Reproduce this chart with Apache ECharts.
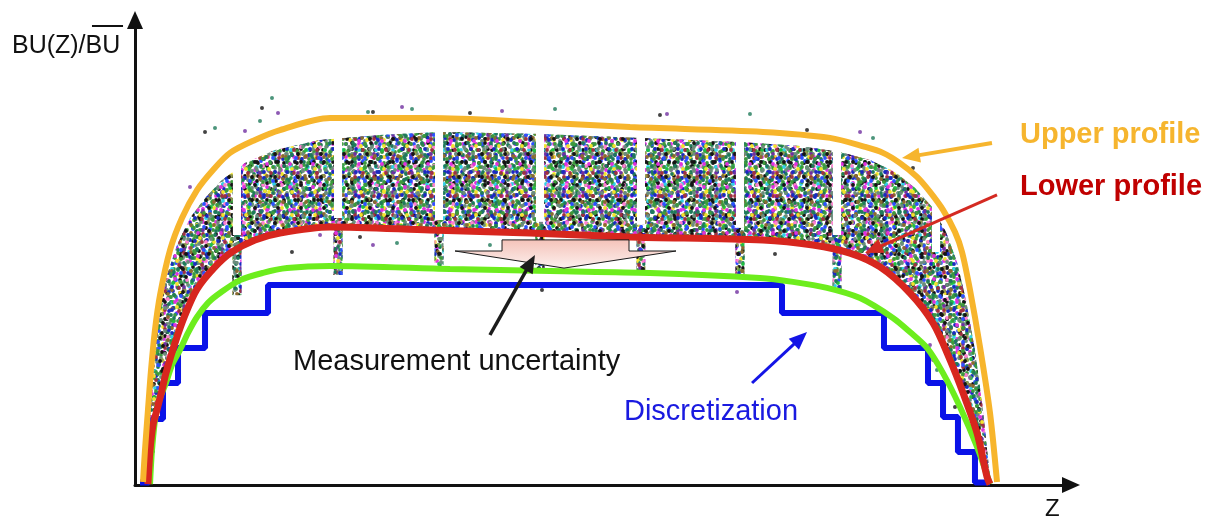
<!DOCTYPE html>
<html>
<head>
<meta charset="utf-8">
<script src="https://cdn.jsdelivr.net/npm/echarts@6/dist/echarts.min.js"></script>
<style>
  html, body { margin: 0; padding: 0; background: #ffffff; }
  #main { width: 1215px; height: 520px; }
</style>
</head>
<body>
<div id="main"></div>
<script>
// Axial burnup shape BU(Z)/BU: measured scatter band, upper/lower envelopes,
// a smooth design profile and its stepwise discretization.

// [z, BU ratio] pairs
const upperProfile = [
  [0.89, 0.01], [1.11, 0.117], [1.44, 0.25], [1.78, 0.383], [2.22, 0.517],
  [2.78, 0.633], [3.89, 0.783], [5.22, 0.89], [6.89, 0.983], [8.67, 1.05],
  [10.56, 1.107], [13.33, 1.15], [16.11, 1.183], [21.67, 1.223], [32.78, 1.223],
  [43.89, 1.21], [55.0, 1.193], [69.78, 1.177], [77.22, 1.157], [81.11, 1.127],
  [83.11, 1.107], [85.0, 1.073], [86.89, 1.027], [88.33, 0.977], [89.78, 0.917],
  [91.11, 0.843], [91.89, 0.777], [92.78, 0.65], [93.89, 0.46], [95.0, 0.24],
  [95.78, 0.01]
];

const lowerProfile = [
  [1.44, 0.003], [1.67, 0.117], [2.0, 0.2], [2.44, 0.25], [3.0, 0.317],
  [3.44, 0.373], [4.44, 0.473], [5.56, 0.567], [6.89, 0.653], [8.89, 0.727],
  [10.78, 0.777], [13.33, 0.817], [16.11, 0.84], [21.67, 0.86], [32.78, 0.85],
  [43.89, 0.84], [55.0, 0.827], [69.78, 0.817], [75.33, 0.8], [79.44, 0.773],
  [82.78, 0.727], [86.11, 0.64], [88.67, 0.54], [90.56, 0.417], [92.0, 0.307],
  [93.56, 0.173], [94.67, 0.027], [95.0, 0.003]
];

const designProfile = [
  [1.67, 0.003], [1.89, 0.117], [2.33, 0.24], [2.78, 0.29], [3.44, 0.34],
  [4.11, 0.4], [5.0, 0.45], [5.89, 0.507], [6.89, 0.56], [8.11, 0.607],
  [9.44, 0.64], [11.67, 0.683], [14.22, 0.707], [16.89, 0.723], [21.67, 0.73],
  [35.0, 0.72], [46.11, 0.713], [57.22, 0.707], [69.44, 0.69], [73.11, 0.677],
  [76.89, 0.657], [80.56, 0.623], [84.22, 0.557], [86.11, 0.51], [88.0, 0.457],
  [89.78, 0.373], [91.67, 0.26], [93.56, 0.127], [95.0, 0.003]
];

// stepwise discretization: left edge of each axial zone and its level
const stepEdges  = [0.56, 1.56, 1.89, 3.11, 4.78, 7.78, 14.78, 71.89, 83.22, 88.11, 89.78, 91.44, 93.33, 95.0];
const stepLevels = [0.008, 0.11, 0.22, 0.34, 0.457, 0.573, 0.667, 0.573, 0.457, 0.34, 0.227, 0.11, 0.008, 0.008];

// outer edge of the measured band (its inner edge is the lower profile)
const bandTop = [
  [1.11, 0.023], [1.44, 0.15], [1.78, 0.283], [2.22, 0.45], [2.78, 0.583],
  [3.56, 0.7], [4.67, 0.8], [6.11, 0.89], [7.78, 0.957], [9.67, 1.017],
  [12.22, 1.073], [15.56, 1.117], [20.56, 1.15], [27.22, 1.167], [33.89, 1.177],
  [45.0, 1.17], [56.11, 1.157], [67.22, 1.143], [73.89, 1.13], [78.33, 1.11],
  [81.67, 1.083], [84.44, 1.043], [86.67, 0.99], [88.56, 0.927], [90.11, 0.843],
  [91.33, 0.743], [92.33, 0.617], [93.33, 0.45], [94.22, 0.25], [95.0, 0.023]
];

// spacer-grid positions: dip in the band with a tail reaching downwards
const gridZ       = [11.33, 22.56, 33.78, 45.0, 56.22, 67.22, 78.0, 89.0];
const gapBottom   = [0.833, 0.89, 0.883, 0.877, 0.867, 0.857, 0.833, 0.777];
const tailBottom  = [0.633, 0.70, 0.723, 0.717, 0.71, 0.703, 0.65, 0.777];

// isolated measurement points outside the dense band
const strayPoints = [
  [15.22, 1.29], [14.11, 1.257], [15.89, 1.24], [13.89, 1.213], [7.78, 1.177],
  [12.22, 1.18], [25.89, 1.243], [26.44, 1.243], [29.67, 1.26], [30.78, 1.253],
  [37.22, 1.24], [40.78, 1.247], [46.67, 1.253], [58.33, 1.233], [59.11, 1.237],
  [68.33, 1.237], [74.67, 1.183], [80.56, 1.177], [82.0, 1.157], [86.44, 1.057],
  [6.11, 0.993], [8.89, 1.19],
  [25.0, 0.827], [26.44, 0.8], [29.11, 0.807], [17.44, 0.777], [20.56, 0.833],
  [39.44, 0.8], [71.11, 0.77], [66.89, 0.643], [22.44, 0.667], [45.22, 0.65],
  [88.67, 0.417], [89.11, 0.383], [91.11, 0.26], [88.33, 0.467]
];

// annotation geometry (data units)
const shiftArrow = [[40.78, 0.817], [54.89, 0.817], [54.89, 0.78], [60.11, 0.78],
                    [47.67, 0.723], [35.56, 0.78], [40.78, 0.78]];
const pointers = [
  { from: [95.22, 1.14], to: [85.22, 1.09], color: '#f6b52e', width: 4 },
  { from: [95.78, 0.967], to: [81.11, 0.773], color: '#d42a22', width: 3 },
  { from: [39.44, 0.5], to: [44.44, 0.767], color: '#1c1c1c', width: 3.5 },
  { from: [68.56, 0.34], to: [74.67, 0.51], color: '#1414e6', width: 3 }
];
const captions = [
  { text: 'Upper profile', at: [98.33, 1.167], color: '#f6b52e', weight: 'bold', size: 29 },
  { text: 'Lower profile', at: [98.33, 0.992], color: '#c00000', weight: 'bold', size: 29 },
  { text: 'Measurement uncertainty', at: [17.56, 0.41], color: '#111111', weight: 'normal', size: 29 },
  { text: 'Discretization', at: [54.33, 0.242], color: '#1a1ae0', weight: 'normal', size: 29 },
  { text: 'BU(Z)/BU', at: [-13.67, 1.462], color: '#111111', weight: 'normal', size: 25 },
  { text: 'Z', at: [101.11, -0.08], color: '#111111', weight: 'normal', size: 24 }
];
const meanBar = [[-4.78, 1.53], [-1.33, 1.53]];

// ---- dotted texture for the dense measurement band ----
const dotPalette = ['#1f7a5a', '#3c9a3c', '#1a2ac0', '#e030e0', '#f2e42a', '#141414',
                    '#6c8c7c', '#2b50ff', '#30d0e8', '#8a6a30', '#7030a0', '#ff80d0',
                    '#20c040', '#a03040', '#909a50'];
const textureLayers = [
  { size: 13, dots: [[2, 3, 0], [8, 1, 3], [11, 7, 5], [5, 9, 1], [1, 11, 6]] },
  { size: 17, dots: [[3, 2, 2], [10, 4, 4], [15, 9, 0], [6, 8, 7], [12, 13, 5], [2, 14, 8], [8, 15, 1], [14, 1, 6]] },
  { size: 19, dots: [[1, 5, 9], [7, 3, 0], [13, 2, 10], [17, 7, 2], [4, 11, 1], [10, 10, 5], [16, 14, 11], [2, 17, 12], [9, 16, 6], [13, 6, 13]] },
  { size: 23, dots: [[2, 1, 5], [8, 5, 0], [14, 3, 3], [20, 6, 1], [4, 9, 6], [11, 11, 2], [18, 12, 13], [1, 15, 14], [7, 18, 9], [13, 19, 0], [20, 20, 7], [16, 8, 4], [10, 21, 1], [22, 16, 5]] }
];
function makeTile(layer) {
  const c = document.createElement('canvas');
  c.width = c.height = layer.size;
  const ctx = c.getContext('2d');
  layer.dots.forEach(([x, y, k]) => {
    ctx.fillStyle = dotPalette[k];
    for (let dx = -1; dx <= 1; dx++) {
      for (let dy = -1; dy <= 1; dy++) {
        ctx.beginPath();
        ctx.arc(x + dx * layer.size, y + dy * layer.size, 1.9, 0, Math.PI * 2);
        ctx.fill();
      }
    }
  });
  return c;
}
const tiles = textureLayers.map(makeTile);
const dottedFills = tiles.map(t => ({ image: t, repeat: 'repeat' }));

const chart = echarts.init(document.getElementById('main'), null, { renderer: 'canvas' });

const FONT = '"Liberation Sans", Arial, Helvetica, sans-serif';

function arrowShapes(p, color, width, headLen, headHalf) {
  const a = p.from, b = p.to;
  const dx = b[0] - a[0], dy = b[1] - a[1];
  const len = Math.hypot(dx, dy);
  const ux = dx / len, uy = dy / len;
  const bx = b[0] - ux * headLen, by = b[1] - uy * headLen;
  return [
    { type: 'line', shape: { x1: a[0], y1: a[1], x2: bx + ux * 2, y2: by + uy * 2 },
      style: { stroke: color, lineWidth: width } },
    { type: 'polygon', shape: { points: [[b[0], b[1]], [bx - uy * headHalf, by + ux * headHalf], [bx + uy * headHalf, by - ux * headHalf]] },
      style: { fill: color } }
  ];
}

const option = {
  animation: false,
  backgroundColor: '#ffffff',
  grid: { left: 135, right: 144, top: 20, bottom: 35 },
  xAxis: {
    type: 'value', min: 0, max: 104,
    axisLine: { show: true, onZero: false, symbol: ['none', 'triangle'], symbolSize: [16, 18],
                lineStyle: { color: '#111111', width: 3 } },
    axisTick: { show: false }, axisLabel: { show: false }, splitLine: { show: false }
  },
  yAxis: {
    type: 'value', min: 0, max: 1.55,
    axisLine: { show: true, onZero: false, symbol: ['none', 'triangle'], symbolSize: [16, 18],
                lineStyle: { color: '#111111', width: 3 } },
    axisTick: { show: false }, axisLabel: { show: false }, splitLine: { show: false }
  },
  series: [
    {
      // dense measured band between outer edge and lower profile
      type: 'custom', name: 'band', z: 1, silent: true,
      data: [[0, 0]],
      renderItem(params, api) {
        const pts = bandTop.map(p => api.coord(p))
          .concat(lowerProfile.slice().reverse().map(p => api.coord(p)));
        return {
          type: 'group',
          children: dottedFills.map(f => ({ type: 'polygon', shape: { points: pts }, style: { fill: f } }))
        };
      }
    },
    {
      // spacer-grid dips and tails
      type: 'custom', name: 'grids', z: 2, silent: true,
      data: gridZ.map((z, i) => [z, gapBottom[i], tailBottom[i]]),
      renderItem(params, api) {
        const z = api.value(0);
        const top = api.coord([z, 1.32]);
        const gb = api.coord([z, api.value(1)]);
        const tb = api.coord([z, api.value(2)]);
        const gw = api.size([0.9, 0])[0];
        const tw = api.size([1.0, 0])[0];
        const children = [
          { type: 'rect', shape: { x: gb[0] - gw / 2, y: top[1], width: gw, height: gb[1] - top[1] },
            style: { fill: '#ffffff' } }
        ];
        if (tb[1] > gb[1]) {
          dottedFills.forEach(f => children.push({
            type: 'rect', shape: { x: tb[0] - tw / 2, y: gb[1], width: tw, height: tb[1] - gb[1] },
            style: { fill: f }
          }));
        }
        return { type: 'group', children };
      }
    },
    {
      type: 'scatter', name: 'stray', z: 3, silent: true,
      symbol: 'circle', symbolSize: 4,
      data: strayPoints,
      itemStyle: { color: p => dotPalette[(p.dataIndex * 5) % dotPalette.length] }
    },
    {
      type: 'line', name: 'Discretization', z: 4, silent: true,
      step: 'end', symbol: 'none',
      data: stepEdges.map((z, i) => [z, stepLevels[i]]),
      lineStyle: { color: '#0a12e8', width: 6 }
    },
    {
      type: 'line', name: 'Design', z: 5, silent: true,
      smooth: 0.3, symbol: 'none',
      data: designProfile,
      lineStyle: { color: '#6ded1d', width: 6 }
    },
    {
      type: 'line', name: 'Lower profile', z: 6, silent: true,
      smooth: 0.3, symbol: 'none',
      data: lowerProfile,
      lineStyle: { color: '#d7261e', width: 7 }
    },
    {
      type: 'line', name: 'Upper profile', z: 7, silent: true,
      smooth: 0.3, symbol: 'none',
      data: upperProfile,
      lineStyle: { color: '#f7b52c', width: 6 }
    },
    {
      // annotations: shift arrow, pointers, captions
      type: 'custom', name: 'notes', z: 10, silent: true, clip: false,
      data: [[0, 0]],
      renderItem(params, api) {
        const children = [];
        children.push({
          type: 'polygon',
          shape: { points: shiftArrow.map(p => api.coord(p)) },
          style: {
            fill: new echarts.graphic.LinearGradient(0, 0, 0, 1, [
              { offset: 0, color: '#f4c2b9' }, { offset: 1, color: '#fdf1ee' }
            ]),
            stroke: '#1a1a1a', lineWidth: 1
          }
        });
        pointers.forEach(p => {
          const seg = { from: api.coord(p.from), to: api.coord(p.to) };
          arrowShapes(seg, p.color, p.width, 18, 7.5).forEach(s => children.push(s));
        });
        captions.forEach(c => {
          const pt = api.coord(c.at);
          children.push({
            type: 'text',
            style: {
              text: c.text, x: pt[0], y: pt[1], fill: c.color,
              font: c.weight + ' ' + c.size + 'px ' + FONT,
              align: 'left', verticalAlign: 'middle'
            }
          });
        });
        const m0 = api.coord(meanBar[0]), m1 = api.coord(meanBar[1]);
        children.push({ type: 'line', shape: { x1: m0[0], y1: m0[1], x2: m1[0], y2: m1[1] },
                        style: { stroke: '#111111', lineWidth: 2 } });
        return { type: 'group', children };
      }
    }
  ]
};

chart.setOption(option);
</script>
</body>
</html>
